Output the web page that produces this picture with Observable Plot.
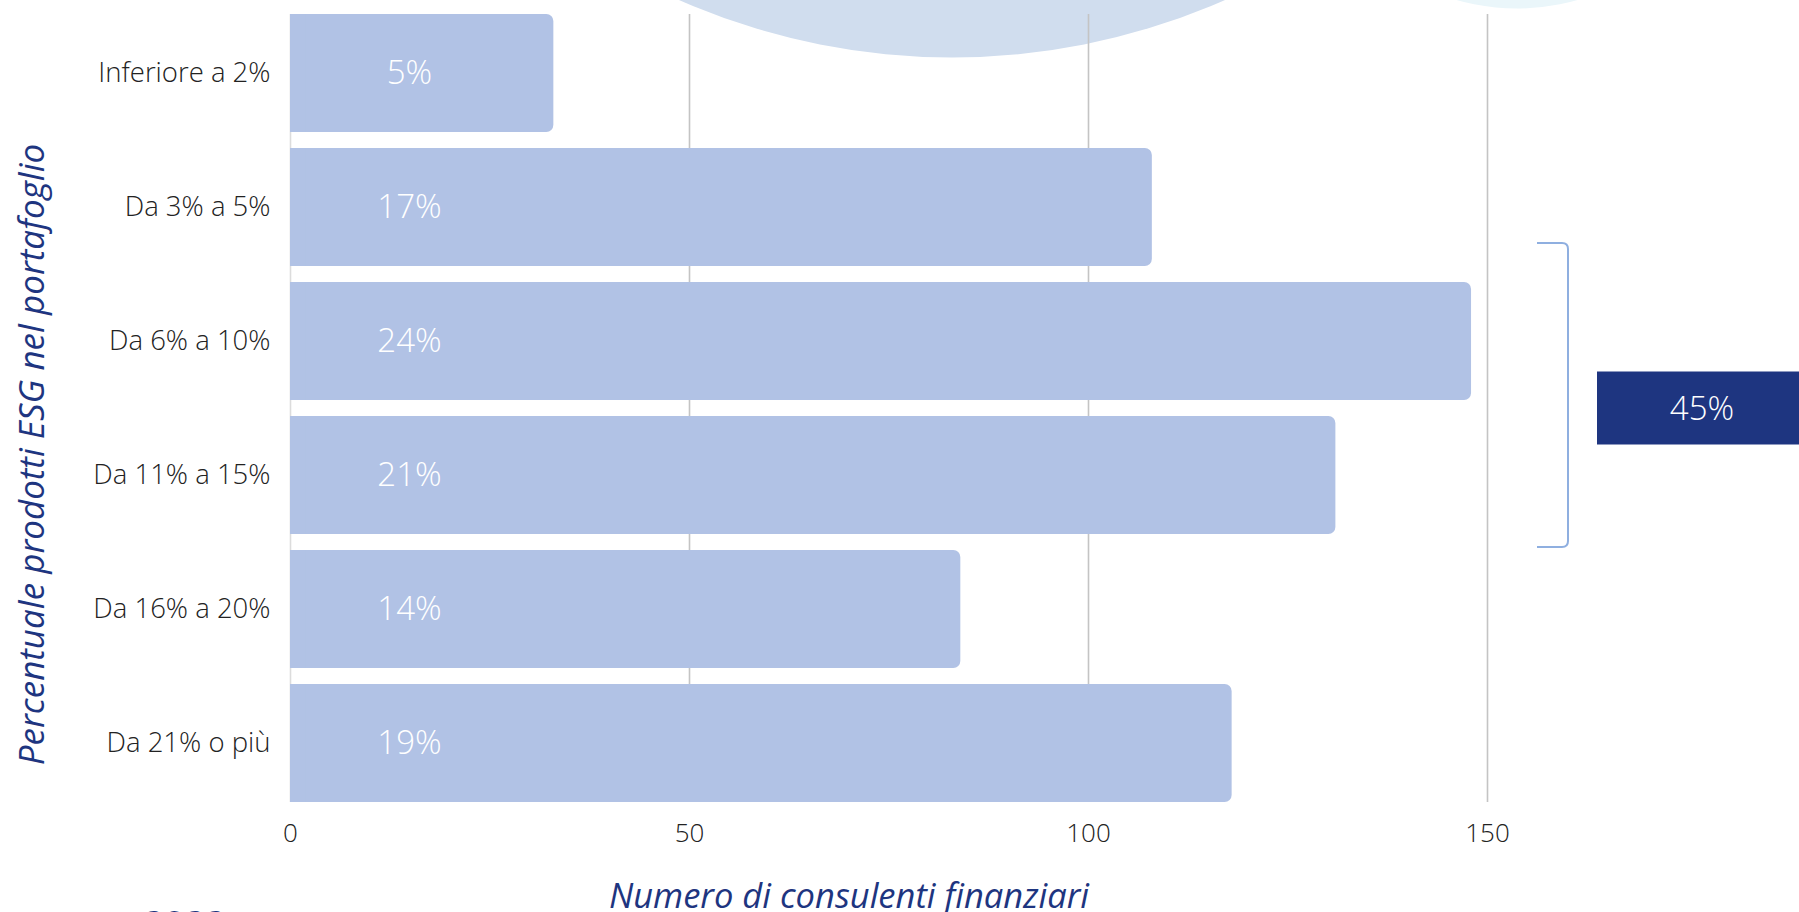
<!DOCTYPE html>
<html>
<head>
<meta charset="utf-8">
<script src="https://cdn.jsdelivr.net/npm/d3@7"></script>
<script src="https://cdn.jsdelivr.net/npm/@observablehq/plot@0.6"></script>
<style>
  html, body { margin: 0; padding: 0; background: #ffffff; overflow: hidden; }
  #chart { width: 1799px; height: 912px; }
</style>
</head>
<body>
<div id="chart"></div>
<script>
// ---- Data ----
const categories = ["Inferiore a 2%", "Da 3% a 5%", "Da 6% a 10%", "Da 11% a 15%", "Da 16% a 20%", "Da 21% o più"];
const counts = [33, 108, 148, 131, 84, 118];
const shares = ["5%", "17%", "24%", "21%", "14%", "19%"];
const xTicks = [0, 50, 100, 150];
const bracketGroup = ["Da 6% a 10%", "Da 11% a 15%"];
const bracketLabel = "45%";
const xTitle = "Numero di consulenti finanziari";
const yTitle = "Percentuale prodotti ESG nel portafoglio";
const footnote = "2022";

const rows = categories.map((c, i) => ({cat: c, count: counts[i], share: shares[i]}));

const barColor = "#b1c2e5";
const navy = "#1e3580";
const font = "'Open Sans', 'Noto Sans', sans-serif";

const plot = Plot.plot({
  width: 1799,
  height: 912,
  marginLeft: 290,
  marginRight: 312,
  marginTop: 14,
  marginBottom: 110,
  style: {fontFamily: font, background: "#ffffff", overflow: "hidden"},
  x: {domain: [0, 150], ticks: xTicks},
  y: {domain: categories, paddingInner: 0.12, paddingOuter: 0},
  marks: [
    // decorative background shapes
    Plot.dot([0], {frameAnchor: "top", dx: 63, dy: -634, r: 677, fill: "#d0ddee", stroke: null}),
    Plot.dot([0], {frameAnchor: "top", dx: 628, dy: -226, r: 220, fill: "#eaf6fa", stroke: null}),
    Plot.gridX(xTicks.slice(1), {stroke: "#c4c4c4", strokeWidth: 1.6, strokeOpacity: 1}),
    Plot.ruleX([0], {stroke: "#dcdcdc", strokeWidth: 1.6}),
    Plot.barX(rows, {x: "count", y: "cat", fill: barColor, rx: 7}),
    Plot.barX(rows, {x1: 0, x2: d => Math.min(d.count, 2), y: "cat", fill: barColor}),
    Plot.text(rows, {x: 0, y: "cat", text: "share", dx: 119, fill: "#ffffff",
      fontSize: 33, fontWeight: 300, textAnchor: "middle"}),
    Plot.axisX({ticks: xTicks, tickSize: 0, tickPadding: 21, fontSize: 26, fontWeight: 300,
      color: "#222222", label: null}),
    Plot.axisY({tickSize: 0, tickPadding: 20, fontSize: 27.5, fontWeight: 300,
      color: "#222222", label: null}),
    Plot.text([xTitle], {frameAnchor: "bottom", textAnchor: "middle", lineAnchor: "middle",
      dx: -40, dy: 94, fontSize: 34.5, fontStyle: "italic", fill: navy}),
    Plot.text([yTitle], {frameAnchor: "left", textAnchor: "middle", lineAnchor: "middle",
      rotate: -90, dx: -258, dy: 46, fontSize: 35, fontStyle: "italic", fill: navy}),
    Plot.text([footnote], {frameAnchor: "bottom-left", textAnchor: "start", lineAnchor: "bottom",
      dx: -147, dy: 134, fontSize: 36, fontWeight: 700, fill: navy})
  ]
});

document.getElementById("chart").appendChild(plot);

// ---- Bracket annotation built from the plot's own scales ----
const xs = plot.scale("x");
const ys = plot.scale("y");
const svg = d3.select(plot);
const yTop = ys.apply(bracketGroup[0]);
const yBot = ys.apply(bracketGroup[bracketGroup.length - 1]) + ys.bandwidth;
const gapMid = yTop + ys.bandwidth + (ys.step - ys.bandwidth) / 2;
const bx0 = xs.apply(150) + 50;
const bx1 = xs.apply(150) + 81;
const t = yTop - 39, b = yBot + 13, rr = 6;

svg.append("path")
  .attr("d", `M${bx0},${t} L${bx1 - rr},${t} Q${bx1},${t} ${bx1},${t + rr} L${bx1},${b - rr} Q${bx1},${b} ${bx1 - rr},${b} L${bx0},${b}`)
  .attr("fill", "none")
  .attr("stroke", "#8fafe0")
  .attr("stroke-width", 2);

const boxX = xs.apply(150) + 110;
const boxH = 73;
svg.append("rect")
  .attr("x", boxX)
  .attr("y", gapMid - boxH / 2)
  .attr("width", 1799 - boxX)
  .attr("height", boxH)
  .attr("fill", navy);

svg.append("text")
  .attr("x", (boxX + 1799) / 2 + 4)
  .attr("y", gapMid)
  .attr("dy", "0.35em")
  .attr("text-anchor", "middle")
  .attr("fill", "#ffffff")
  .attr("font-family", font)
  .attr("font-weight", 300)
  .attr("font-size", 33)
  .text(bracketLabel);
</script>
</body>
</html>
